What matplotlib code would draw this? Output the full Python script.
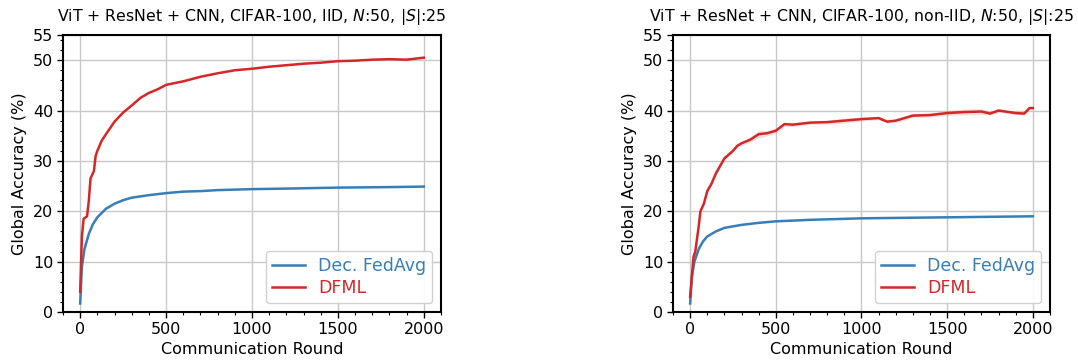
import matplotlib
matplotlib.use("Agg")
import matplotlib.pyplot as plt
from matplotlib.ticker import MultipleLocator

rounds_iid_dfml = [0, 10, 20, 40, 50, 60, 80, 90, 100, 125, 150, 200, 250, 300, 350, 400,
                   450, 500, 600, 700, 800, 900, 1000, 1100, 1200, 1300, 1400, 1500,
                   1600, 1700, 1800, 1900, 2000]
acc_iid_dfml = [4.0, 15.0, 18.5, 19.0, 22.0, 26.5, 28.0, 31.0, 32.0, 34.0, 35.3, 37.8, 39.6,
                41.0, 42.5, 43.5, 44.2, 45.1, 45.8, 46.7, 47.4, 48.0, 48.3, 48.7, 49.0,
                49.3, 49.5, 49.8, 49.9, 50.1, 50.2, 50.1, 50.5]

rounds_iid_fedavg = [0, 10, 25, 50, 75, 100, 150, 200, 250, 300, 400, 500, 600, 700, 800,
                     1000, 1200, 1500, 1800, 2000]
acc_iid_fedavg = [1.7, 9.0, 12.5, 15.5, 17.5, 18.8, 20.5, 21.5, 22.2, 22.7, 23.2, 23.6,
                  23.9, 24.0, 24.2, 24.4, 24.5, 24.7, 24.8, 24.9]

rounds_noniid_dfml = [0, 20, 30, 50, 60, 80, 100, 125, 150, 175, 200, 250, 275, 300, 350,
                      400, 450, 500, 550, 600, 700, 800, 900, 1000, 1100, 1150, 1200, 1250,
                      1300, 1400, 1500, 1600, 1700, 1750, 1800, 1900, 1950, 1980, 2000]
acc_noniid_dfml = [3.0, 11.0, 12.0, 17.0, 20.0, 21.5, 24.0, 25.5, 27.5, 29.0, 30.5, 32.0,
                   33.0, 33.5, 34.2, 35.3, 35.5, 36.0, 37.3, 37.2, 37.6, 37.7, 38.0, 38.3,
                   38.5, 37.8, 38.0, 38.5, 39.0, 39.1, 39.5, 39.7, 39.8, 39.4, 40.0, 39.5,
                   39.4, 40.5, 40.5]
std_noniid_dfml = [0.1, 0.2, 0.2, 0.2, 0.2, 0.2, 0.2, 0.3, 0.3, 0.3, 0.3, 0.3, 0.3, 0.4,
                   0.5, 0.8, 0.5, 0.5, 0.4, 0.4, 0.3, 0.4, 0.5, 0.4, 0.3, 0.3, 0.3, 0.4,
                   0.4, 0.4, 0.5, 0.6, 0.6, 0.3, 0.3, 0.3, 0.3, 0.3, 0.3]

rounds_noniid_fedavg = [0, 10, 25, 50, 75, 100, 150, 200, 300, 400, 500, 700, 1000, 1500, 2000]
acc_noniid_fedavg = [1.7, 7.0, 10.0, 12.5, 14.0, 15.0, 16.0, 16.7, 17.3, 17.7, 18.0, 18.3,
                     18.6, 18.8, 19.0]

titles = ["ViT + ResNet + CNN, CIFAR-100, IID, $N$:50, $|S|$:25",
          "ViT + ResNet + CNN, CIFAR-100, non-IID, $N$:50, $|S|$:25"]

BLUE = "#377eb8"
RED = "#d62728"

fig = plt.figure(figsize=(10.78, 3.6), dpi=100)
ax_left = fig.add_axes([63 / 1078, 1 - 312 / 360, 378 / 1078, 277 / 360])
ax_right = fig.add_axes([673 / 1078, 1 - 312 / 360, 377 / 1078, 277 / 360])

panels = [
    (ax_left, rounds_iid_fedavg, acc_iid_fedavg, rounds_iid_dfml, acc_iid_dfml, None),
    (ax_right, rounds_noniid_fedavg, acc_noniid_fedavg, rounds_noniid_dfml, acc_noniid_dfml,
     std_noniid_dfml),
]

for i, (ax, rf, af, rd, ad, sd) in enumerate(panels):
    ax.plot(rf, af, color=BLUE, lw=1.8, label="Dec. FedAvg")
    ax.plot(rd, ad, color=RED, lw=1.8, label="DFML")
    if sd is not None:
        lo = [a - s for a, s in zip(ad, sd)]
        hi = [a + s for a, s in zip(ad, sd)]
        ax.fill_between(rd, lo, hi, color=RED, alpha=0.15, lw=0)

    ax.set_xlim(-100, 2100)
    ax.set_ylim(0, 55)
    ax.set_yticks([0, 10, 20, 30, 40, 50, 55])
    ax.yaxis.set_minor_locator(MultipleLocator(2))
    ax.xaxis.set_major_locator(MultipleLocator(500))
    ax.xaxis.set_minor_locator(MultipleLocator(100))
    ax.grid(True, which="major", color="#c8c8c8", lw=1)
    ax.set_axisbelow(True)
    for s in ax.spines.values():
        s.set_linewidth(1.5)
        s.set_color("black")
    ax.tick_params(which="major", labelsize=11.5, length=4, width=1, pad=3)
    ax.tick_params(which="minor", length=2.5, width=0.8)
    ax.set_xlabel("Communication Round", fontsize=11.5, labelpad=4)
    ax.set_ylabel("Global Accuracy (%)", fontsize=11.5, labelpad=4)
    ax.set_title(titles[i], fontsize=11.3, pad=10)

    leg = ax.legend(loc="lower right", fontsize=12.5, handlelength=1.9, handletextpad=0.75,
                    borderpad=0.35, labelspacing=0.25, borderaxespad=0.5, framealpha=0.9)
    for text, line in zip(leg.get_texts(), leg.get_lines()):
        text.set_color(line.get_color())

fig.savefig("out.png", dpi=100)
